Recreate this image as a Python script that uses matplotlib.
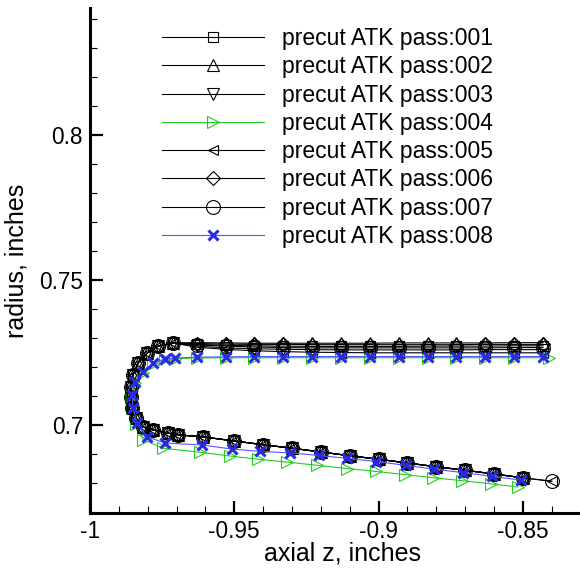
import matplotlib
matplotlib.use("Agg")
import matplotlib.pyplot as plt
from matplotlib.ticker import MultipleLocator, FuncFormatter

plt.rcParams['font.family'] = ['Liberation Sans', 'DejaVu Sans']
plt.rcParams['axes.unicode_minus'] = False

# upper branch, axial z (right to left)
z_up = [-0.843, -0.853, -0.863, -0.873, -0.883, -0.893, -0.903,
        -0.913, -0.923, -0.933, -0.943, -0.953, -0.963]

# radius on the upper branch, one list per pass
r_up_001 = [0.7273, 0.7273, 0.7272, 0.7272, 0.7272, 0.7271, 0.7271,
            0.7271, 0.7271, 0.7272, 0.7273, 0.7275, 0.7278]
r_up_002 = [0.7284, 0.7284, 0.7283, 0.7283, 0.7283, 0.7283, 0.7282,
            0.7282, 0.7282, 0.7282, 0.7282, 0.7283, 0.7284]
r_up_003 = [0.7260, 0.7260, 0.7260, 0.7259, 0.7259, 0.7259, 0.7259,
            0.7259, 0.7260, 0.7261, 0.7263, 0.7266, 0.7272]
r_up_005 = [0.7249, 0.7249, 0.7249, 0.7249, 0.7249, 0.7249, 0.7249,
            0.7250, 0.7251, 0.7253, 0.7256, 0.7261, 0.7268]
r_up_006 = [0.7278, 0.7278, 0.7278, 0.7277, 0.7277, 0.7277, 0.7277,
            0.7277, 0.7277, 0.7278, 0.7278, 0.7279, 0.7281]
r_up_007 = [0.7267, 0.7267, 0.7266, 0.7266, 0.7266, 0.7266, 0.7266,
            0.7266, 0.7266, 0.7267, 0.7269, 0.7272, 0.7276]

# turn around the tool nose, black passes
z_turn = [-0.9712, -0.9764, -0.9802, -0.9833, -0.9851, -0.9858, -0.9858,
          -0.9854, -0.9840, -0.9816, -0.9781, -0.9729, -0.9694, -0.9608]
r_turn = [0.7283, 0.7272, 0.7248, 0.7214, 0.7172, 0.7131, 0.7097,
          0.7059, 0.7024, 0.6993, 0.6983, 0.6972, 0.6966, 0.6959]

# lower branch, black passes
z_low = [-0.950, -0.940, -0.930, -0.920, -0.910, -0.900, -0.890,
         -0.880, -0.870, -0.860, -0.850]
r_low = [0.6945, 0.6932, 0.6920, 0.6907, 0.6894, 0.6882, 0.6869,
         0.6856, 0.6844, 0.6831, 0.6818]
z_end = [-0.840]
r_end = [0.6806]

# pass 004 (green)
z_up_004 = [-0.841, -0.853, -0.863, -0.873, -0.883, -0.893, -0.903,
            -0.913, -0.923, -0.933, -0.943, -0.953, -0.963]
r_up_004 = [0.7232, 0.7232, 0.7232, 0.7232, 0.7232, 0.7232, 0.7232,
            0.7232, 0.7232, 0.7232, 0.7232, 0.7232, 0.7231]
z_turn_004 = [-0.9705, -0.9740, -0.9780, -0.9816, -0.9844, -0.9856,
              -0.9853, -0.9840, -0.9816, -0.9747, -0.9618]
r_turn_004 = [0.7229, 0.7226, 0.7212, 0.7181, 0.7146, 0.7101,
              0.7057, 0.7005, 0.6950, 0.6920, 0.6906]
z_low_004 = [-0.9514, -0.9417, -0.9316, -0.9212, -0.9110, -0.9010,
             -0.8910, -0.8810, -0.8710, -0.8610, -0.8517]
r_low_004 = [0.6893, 0.6882, 0.6872, 0.6861, 0.6850, 0.6840,
             0.6829, 0.6818, 0.6808, 0.6797, 0.6786]

# pass 008 (blue)
r_up_008 = [0.7236, 0.7236, 0.7236, 0.7236, 0.7236, 0.7236, 0.7236,
            0.7236, 0.7236, 0.7236, 0.7236, 0.7235, 0.7234]
z_turn_008 = [-0.9705, -0.9740, -0.9781, -0.9816, -0.9844, -0.9854,
              -0.9851, -0.9837, -0.9802, -0.9740, -0.9611]
r_turn_008 = [0.7231, 0.7228, 0.7214, 0.7183, 0.7148, 0.7103,
              0.7059, 0.7007, 0.6959, 0.6938, 0.6931]
z_low_008 = [-0.9507, -0.9410, -0.9306, -0.9208, -0.9108, -0.9010,
             -0.8906, -0.8809, -0.8708, -0.8608, -0.8507]
r_low_008 = [0.6917, 0.6909, 0.6904, 0.6895, 0.6885, 0.6874,
             0.6861, 0.6848, 0.6836, 0.6823, 0.6810]

labels = ["precut ATK pass:%03d" % i for i in range(1, 9)]

fig = plt.figure(figsize=(5.8, 5.71), dpi=100)
ax = fig.add_axes([90/580, 58/571, 490/580, 505/571])

black = dict(color="black", lw=0.8, mfc="none", mec="black", mew=0.8)
ax.plot(z_up + z_turn + z_low, r_up_001 + r_turn + r_low, marker="s", ms=7, label=labels[0], **black)
ax.plot(z_up + z_turn + z_low, r_up_002 + r_turn + r_low, marker="^", ms=8, label=labels[1], **black)
ax.plot(z_up + z_turn + z_low, r_up_003 + r_turn + r_low, marker="v", ms=8, label=labels[2], **black)
ax.plot(z_up_004 + z_turn_004 + z_low_004, r_up_004 + r_turn_004 + r_low_004,
        marker=">", ms=9, color="#22cc22", lw=0.8, mfc="none", mec="#22cc22", mew=0.8, label=labels[3])
ax.plot(z_up + z_turn + z_low + z_end, r_up_005 + r_turn + r_low + r_end, marker="<", ms=7.5, label=labels[4], **black)
ax.plot(z_up + z_turn + z_low, r_up_006 + r_turn + r_low, marker="D", ms=7, label=labels[5], **black)
ax.plot(z_up + z_turn + z_low + z_end, r_up_007 + r_turn + r_low + r_end, marker="o", ms=10, label=labels[6], **black)
ax.plot(z_up + z_turn_008 + z_low_008, r_up_008 + r_turn_008 + r_low_008,
        marker="x", ms=6.5, color="#5555ff", lw=0.8, mec="#2a2ae6", mew=2.2, label=labels[7])

ax.set_xlim(-1.0, -0.8302)
ax.set_ylim(0.66966, 0.84379)

for s in ["top", "right"]:
    ax.spines[s].set_visible(False)
for s in ["left", "bottom"]:
    ax.spines[s].set_linewidth(2.2)

ax.xaxis.set_major_locator(MultipleLocator(0.05))
ax.xaxis.set_minor_locator(MultipleLocator(0.01))
ax.yaxis.set_major_locator(MultipleLocator(0.05))
ax.yaxis.set_minor_locator(MultipleLocator(0.01))
fmt = FuncFormatter(lambda v, p: "%g" % round(v, 4))
ax.xaxis.set_major_formatter(fmt)
ax.yaxis.set_major_formatter(fmt)
ax.tick_params(which="major", direction="in", length=9, width=1.6, labelsize=16.3, pad=5)
ax.tick_params(which="minor", direction="in", length=5, width=0.8)

ax.set_xlabel("axial z, inches", fontsize=18)
ax.set_ylabel("radius, inches", fontsize=18)
ax.xaxis.set_label_coords(0.516, -0.056)
ax.yaxis.set_label_coords(-0.125, 0.5)

ax.legend(loc="upper left", bbox_to_anchor=(162/580, 1 - 27/571), bbox_transform=fig.transFigure,
          frameon=False, fontsize=16.5, handlelength=4.46, handletextpad=0.78,
          labelspacing=0.23, borderpad=0, borderaxespad=0, numpoints=1)

fig.savefig("out.png", dpi=100)
